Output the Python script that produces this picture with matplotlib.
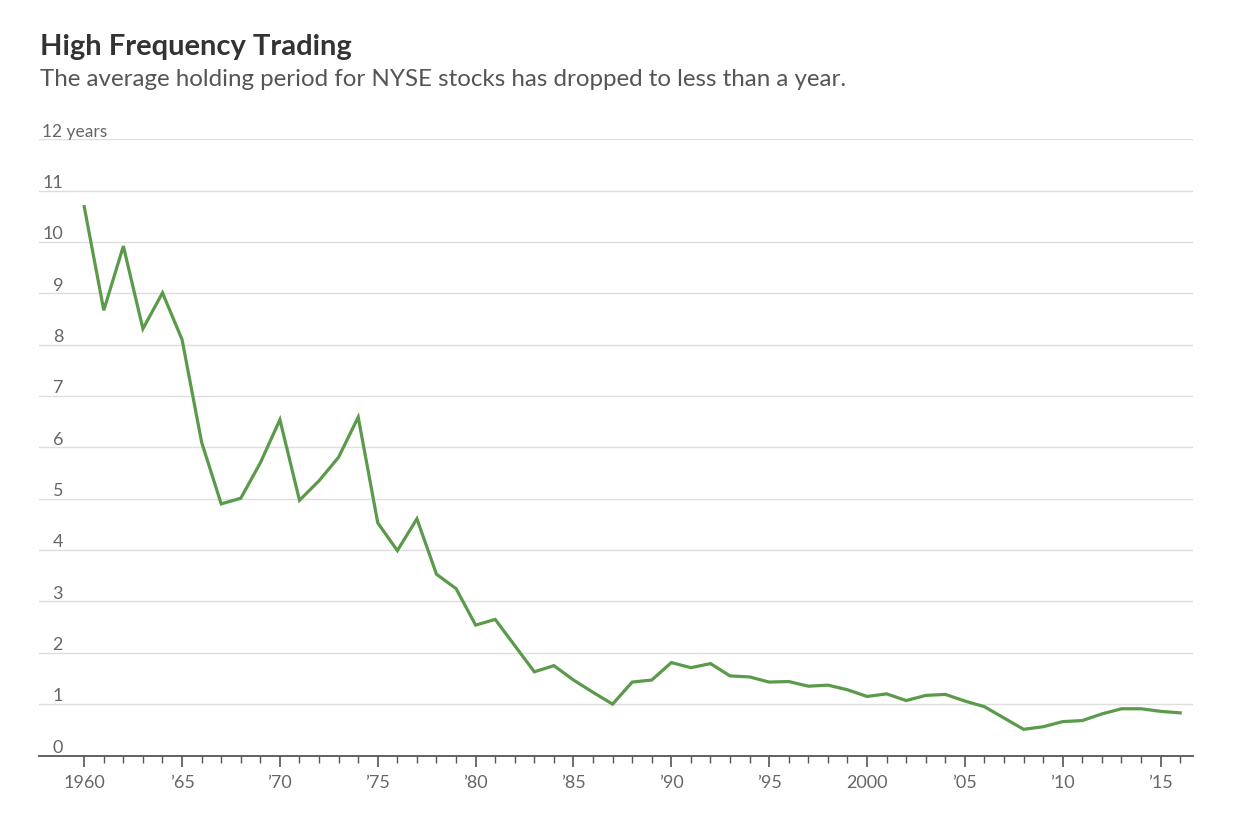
import matplotlib
matplotlib.use("Agg")
import matplotlib.pyplot as plt
import matplotlib.transforms as mtransforms
from matplotlib.ticker import FixedLocator

years = list(range(1960, 2017))
holding = [10.69, 8.67, 9.92, 8.31, 9.01, 8.10, 6.10, 4.90, 5.01, 5.70,
           6.54, 4.97, 5.35, 5.81, 6.59, 4.53, 3.99, 4.61, 3.53, 3.25,
           2.54, 2.65, 2.14, 1.63, 1.75, 1.47, 1.23, 1.00, 1.43, 1.47,
           1.81, 1.71, 1.79, 1.55, 1.53, 1.43, 1.44, 1.35, 1.37, 1.28,
           1.15, 1.20, 1.07, 1.17, 1.19, 1.06, 0.95, 0.73, 0.51, 0.56,
           0.66, 0.68, 0.81, 0.91, 0.91, 0.86, 0.83]

y_ticks = [0, 1, 2, 3, 4, 5, 6, 7, 8, 9, 10, 11, 12]
y_labels = ["0", "1", "2", "3", "4", "5", "6", "7", "8", "9", "10", "11", "12 years"]
x_ticks = [1960, 1965, 1970, 1975, 1980, 1985, 1990, 1995, 2000, 2005, 2010, 2015]
x_labels = ["1960", "’65", "’70", "’75", "’80", "’85", "’90", "’95", "2000", "’05", "’10", "’15"]

title = "High Frequency Trading"
subtitle = "The average holding period for NYSE stocks has dropped to less than a year."

FONT = ["Lato", "DejaVu Sans"]
plt.rcParams["font.family"] = FONT

W, H = 1242, 824
fig = plt.figure(figsize=(W / 100, H / 100), dpi=100)
fig.patch.set_facecolor("white")

left_px, right_px = 39, 1192.7
bottom_px, top_px = 755.5, 139.3
ax = fig.add_axes([left_px / W, 1 - bottom_px / H,
                   (right_px - left_px) / W, (bottom_px - top_px) / H])

ax.plot(years, holding, color="#5a9a4a", lw=2.3, solid_joinstyle="miter", zorder=3)

ax.set_xlim(1957.69, 2016.64)
ax.set_ylim(0, 12)

for v in y_ticks[1:]:
    ax.axhline(v, color="#dedede", lw=1.0, zorder=1)

for s in ["top", "right", "left"]:
    ax.spines[s].set_visible(False)
ax.spines["bottom"].set_color("#555555")
ax.spines["bottom"].set_linewidth(1.3)

ax.set_yticks([])
ax.xaxis.set_major_locator(FixedLocator(x_ticks))
ax.xaxis.set_minor_locator(FixedLocator([y for y in years if y not in x_ticks]))
ax.set_xticklabels(x_labels)
ax.tick_params(axis="x", which="major", length=8, width=1.2, color="#555555",
               labelsize=13, labelcolor="#666666", pad=6)
ax.tick_params(axis="x", which="minor", length=5, width=1.0, color="#555555")

trans = mtransforms.blended_transform_factory(fig.transFigure, ax.transData)
off = mtransforms.offset_copy(trans, fig=fig, x=0, y=2, units="points")
for v, lab in zip(y_ticks, y_labels):
    if v == 12:
        ax.text(42 / W, v, lab, transform=off, ha="left", va="baseline",
                fontsize=12.5, color="#666666")
    else:
        ax.text(63 / W, v, lab, transform=off, ha="right", va="baseline",
                fontsize=13, color="#666666")

fig.text(40 / W, 1 - 55 / H, title, fontsize=21, fontweight="bold", color="#333333",
         ha="left", va="baseline")
fig.text(40 / W, 1 - 86 / H, subtitle, fontsize=17.4, color="#555555",
         ha="left", va="baseline")

fig.savefig("out.png", dpi=100, facecolor="white")
